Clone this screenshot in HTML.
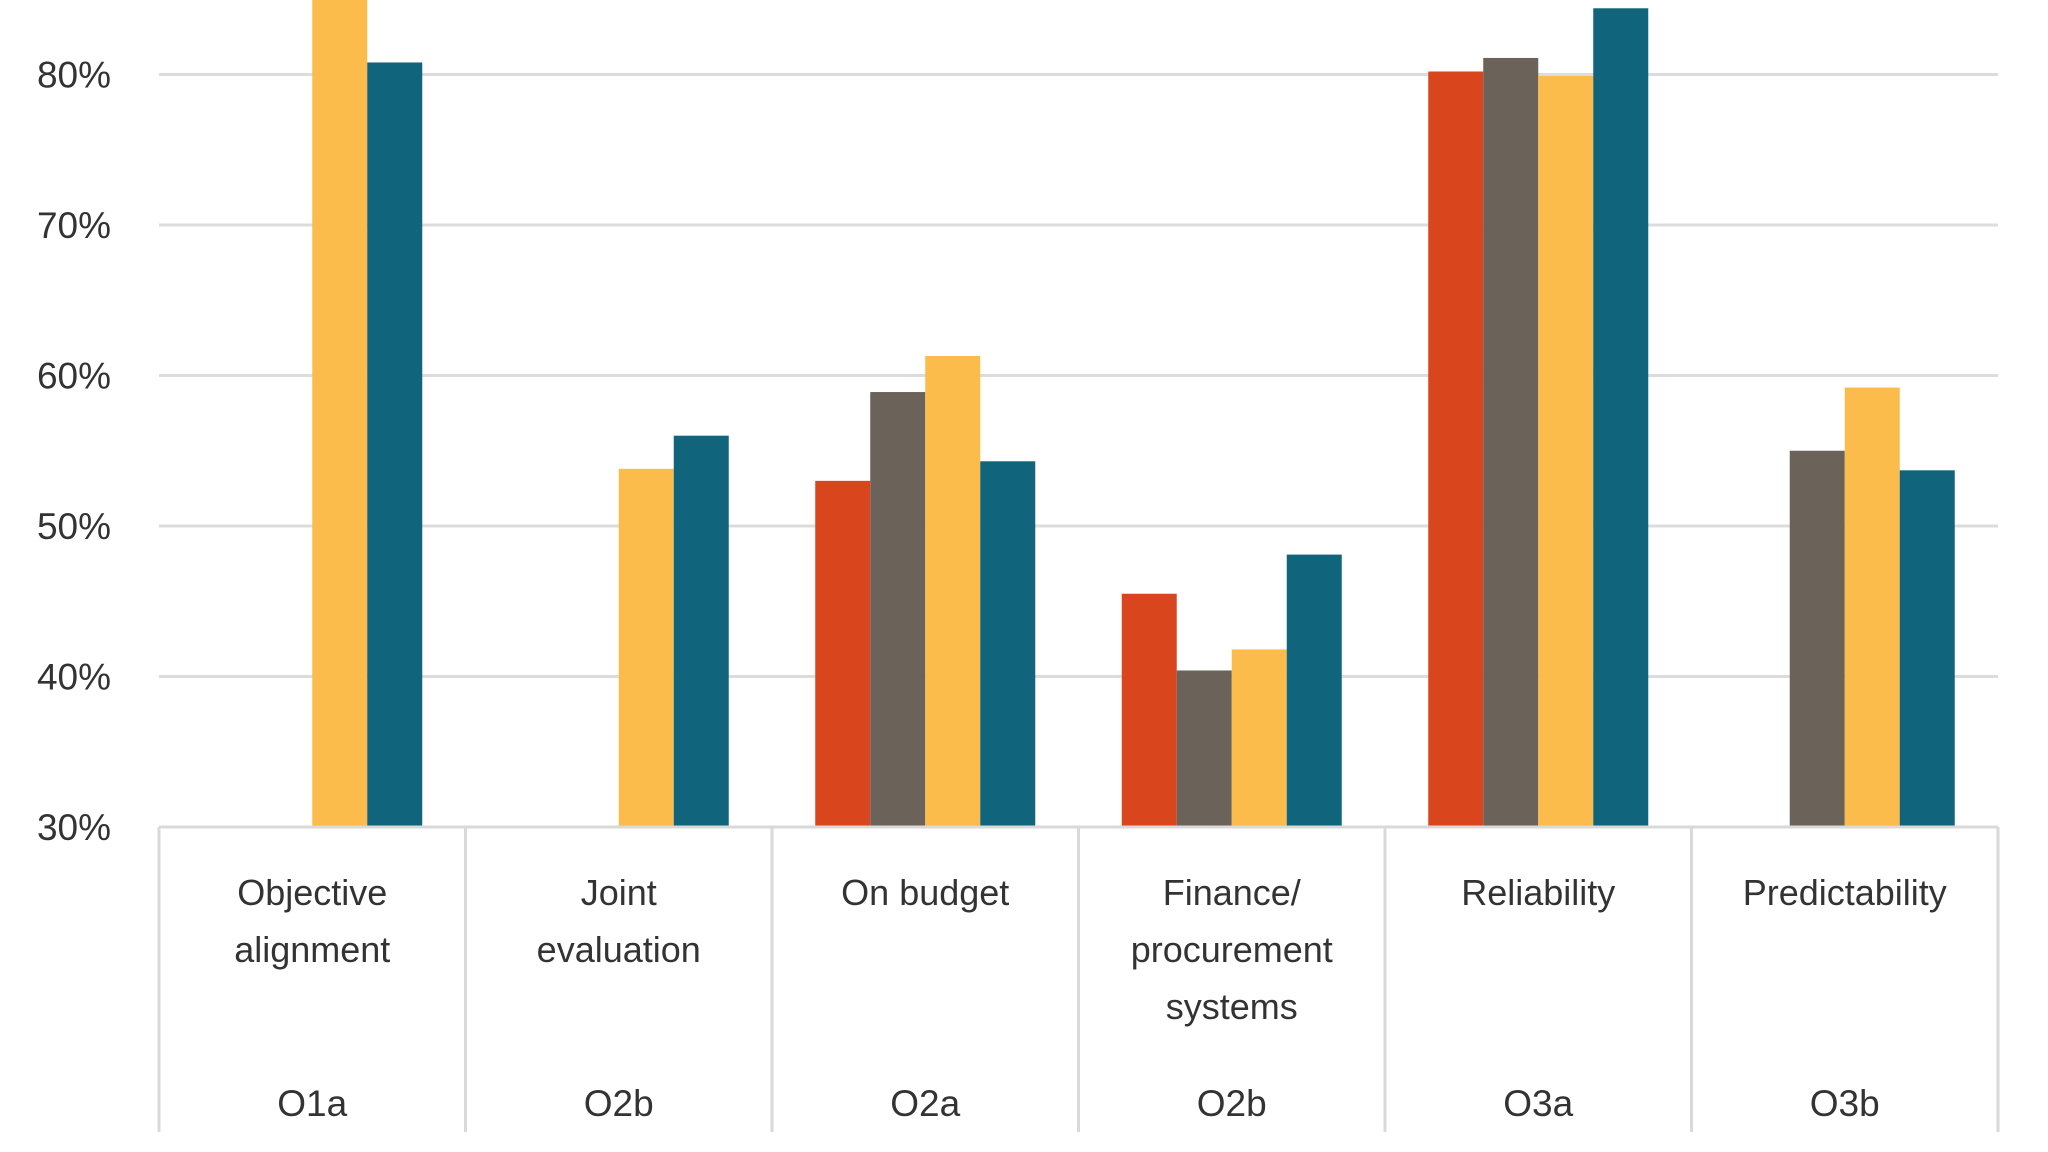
<!DOCTYPE html>
<html><head><meta charset="utf-8"><style>
html,body{margin:0;padding:0;background:#fff;}
svg{display:block;font-family:"Liberation Sans",sans-serif;}
</style></head><body>
<svg id="chart" width="2048" height="1152" viewBox="0 0 2048 1152"></svg>
<script>
const categories=["Objective alignment","Joint evaluation","On budget","Finance/ procurement systems","Reliability","Predictability"];
const labelLines=[["Objective","alignment"],["Joint","evaluation"],["On budget"],["Finance/","procurement","systems"],["Reliability"],["Predictability"]];
const codes=["O1a","O2b","O2a","O2b","O3a","O3b"];
const seriesRed=[null,null,53.0,45.5,80.2,null];
const seriesGrey=[null,null,58.9,40.4,81.1,55.0];
const seriesYellow=[88,53.8,61.3,41.8,79.9,59.2];
const seriesTeal=[80.8,56.0,54.3,48.1,84.4,53.7];
const ticks=[30,40,50,60,70,80];
const tickLabels=["30%","40%","50%","60%","70%","80%"];

const NS="http://www.w3.org/2000/svg";
const svg=document.getElementById('chart');
const left=159,right=1998,base=827,pxPer=15.05;
const catW=(right-left)/categories.length,barW=55;
function y(v){return base-(v-30)*pxPer;}
function x(i){return left+catW*i;}
function mk(t,a){const e=document.createElementNS(NS,t);for(const k in a)e.setAttribute(k,a[k]);svg.appendChild(e);return e;}

ticks.forEach((t,i)=>{
  if(t>30){const g=mk('line',{x1:left,x2:right,y1:y(t),y2:y(t),stroke:'#dcdcdc','stroke-width':3});
  
  }
  const tx=mk('text',{x:111,y:y(t)+13,'text-anchor':'end','font-size':37,fill:'#333'});
  tx.textContent=tickLabels[i];
  
  
});

const series=[["red",seriesRed,"#D9451C"],["grey",seriesGrey,"#6B6259"],["yellow",seriesYellow,"#FBBC4B"],["teal",seriesTeal,"#10657C"]];
series.forEach((s,si)=>{
  s[1].forEach((v,ci)=>{
    if(v==null)return;
    const bx=x(ci)+catW/2-2*barW+si*barW;
    const r=mk('rect',{x:bx,y:y(v),width:barW,height:base-y(v),fill:s[2]});
    
    
  });
});

const ax=mk('line',{x1:left,x2:right,y1:base,y2:base,stroke:'#d9d9d9','stroke-width':3});


for(let i=0;i<=categories.length;i++){
  const l=mk('line',{x1:x(i),x2:x(i),y1:base,y2:1132,stroke:'#d9d9d9','stroke-width':3});
  
  
}
categories.forEach((c,ci)=>{
  const cx=x(ci)+catW/2;
  labelLines[ci].forEach((ln,li)=>{
    const t=mk('text',{x:cx,y:905+li*57,'text-anchor':'middle','font-size':36,fill:'#333'});
    t.textContent=ln;
    
    
  });
  const t2=mk('text',{x:cx,y:1116,'text-anchor':'middle','font-size':37,fill:'#333'});
  t2.textContent=codes[ci];
  
  
});
</script>
</body></html>
